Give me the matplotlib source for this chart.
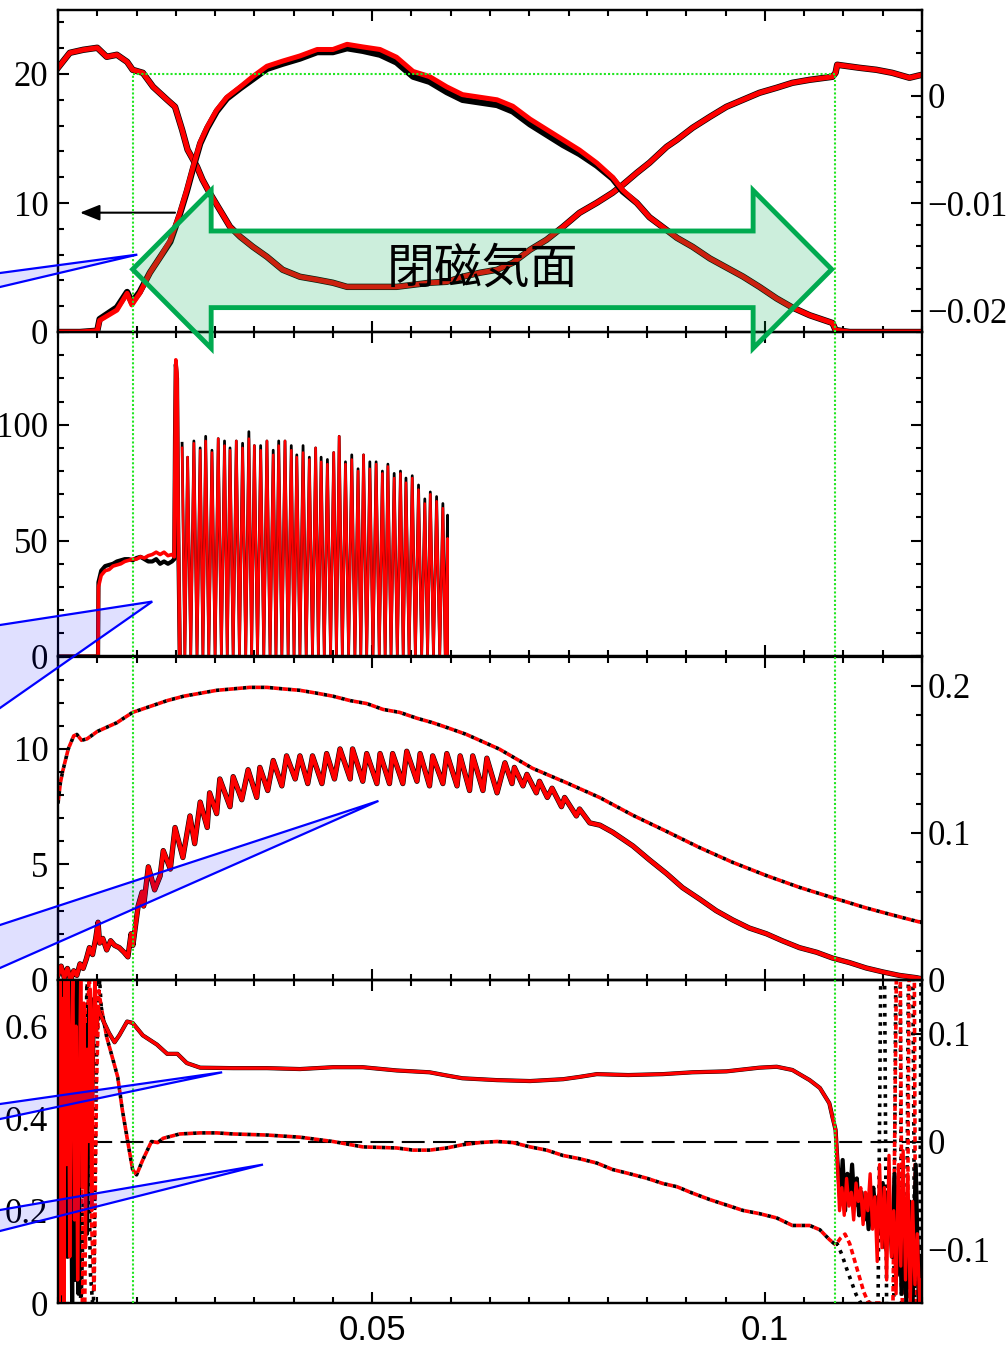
import numpy as np
import matplotlib
matplotlib.use("Agg")
import matplotlib.pyplot as plt
from matplotlib.patches import Polygon
from matplotlib.ticker import FixedLocator, MultipleLocator, FuncFormatter, NullLocator

plt.rcParams['font.family'] = ['Liberation Serif', 'DejaVu Serif']
plt.rcParams['axes.unicode_minus'] = True

# ---------------------------------------------------------------- data
# boundaries of the closed-flux-surface interval
X_OPEN, X_CLOSE = 0.0196, 0.1089

# panel 1, left axis: rising/falling signal
p1_rise_red = [(0.0100, 0.0), (0.0128, 0.0), (0.0150, 0.1), (0.0153, 0.9), (0.0175, 1.7),
               (0.0188, 3.0), (0.0194, 2.1), (0.0204, 3.0), (0.0217, 4.6), (0.0230, 5.8),
               (0.0243, 7.1), (0.0255, 9.2), (0.0264, 11.0), (0.0272, 12.8), (0.0281, 14.7),
               (0.0290, 15.9), (0.0302, 17.2), (0.0315, 18.2), (0.0332, 19.0), (0.0348, 19.8),
               (0.0366, 20.6), (0.0386, 21.0), (0.0408, 21.4), (0.0430, 21.9), (0.0450, 21.9),
               (0.0468, 22.3), (0.0488, 22.1), (0.0510, 21.9), (0.0531, 21.3), (0.0552, 20.2),
               (0.0573, 19.8), (0.0595, 19.0), (0.0615, 18.4), (0.0637, 18.2), (0.0659, 18.0),
               (0.0679, 17.5), (0.0701, 16.5), (0.0722, 15.7), (0.0743, 14.9), (0.0764, 14.1),
               (0.0786, 13.1), (0.0806, 12.0), (0.0819, 11.0), (0.0837, 10.0), (0.0853, 8.9),
               (0.0875, 7.9), (0.0888, 7.3), (0.0908, 6.6), (0.0930, 5.7), (0.0951, 5.0),
               (0.0972, 4.3), (0.0993, 3.5), (0.1015, 2.6), (0.1035, 1.9), (0.1057, 1.3),
               (0.1086, 0.7), (0.1090, 0.15), (0.1108, 0.0), (0.1200, 0.0)]
p1_rise_black = [(0.0100, 0.0), (0.0128, 0.0), (0.0150, 0.1), (0.0153, 1.0), (0.0175, 1.9),
                 (0.0188, 3.1), (0.0194, 2.3), (0.0204, 3.1), (0.0217, 4.6), (0.0230, 5.8),
                 (0.0243, 7.0), (0.0255, 9.1), (0.0264, 10.9), (0.0272, 12.7), (0.0281, 14.6),
                 (0.0290, 15.8), (0.0302, 17.1), (0.0315, 18.1), (0.0332, 18.9), (0.0348, 19.6),
                 (0.0366, 20.4), (0.0386, 20.8), (0.0408, 21.2), (0.0430, 21.7), (0.0450, 21.7),
                 (0.0468, 22.0), (0.0488, 21.8), (0.0510, 21.5), (0.0531, 20.9), (0.0552, 19.8),
                 (0.0573, 19.4), (0.0595, 18.6), (0.0615, 18.0), (0.0637, 17.8), (0.0659, 17.6),
                 (0.0679, 17.1), (0.0701, 16.1), (0.0722, 15.3), (0.0743, 14.5), (0.0764, 13.8),
                 (0.0786, 12.9), (0.0806, 11.9), (0.0819, 10.9), (0.0837, 10.0), (0.0853, 8.9),
                 (0.0875, 7.9), (0.0888, 7.3), (0.0908, 6.6), (0.0930, 5.7), (0.0951, 5.0),
                 (0.0972, 4.3), (0.0993, 3.5), (0.1015, 2.6), (0.1035, 1.9), (0.1057, 1.3),
                 (0.1086, 0.7), (0.1090, 0.15), (0.1108, 0.0), (0.1200, 0.0)]

# panel 1, right axis: signal dipping during the closed-surface phase
p1_dip = [(0.0100, 0.00258), (0.0115, 0.00397), (0.0132, 0.00425), (0.0150, 0.00444),
          (0.0162, 0.00360), (0.0175, 0.00379), (0.0188, 0.00313), (0.0195, 0.00239),
          (0.0208, 0.00211), (0.0221, 0.00081), (0.0239, -0.00040), (0.0249, -0.00105),
          (0.0258, -0.00319), (0.0265, -0.00505), (0.0277, -0.00663), (0.0284, -0.00784),
          (0.0293, -0.00905), (0.0306, -0.01063), (0.0319, -0.01221), (0.0332, -0.01314),
          (0.0348, -0.01407), (0.0366, -0.01500), (0.0386, -0.01621), (0.0408, -0.01686),
          (0.0430, -0.01714), (0.0450, -0.01742), (0.0468, -0.01780), (0.0488, -0.01780),
          (0.0510, -0.01780), (0.0531, -0.01780), (0.0552, -0.01761), (0.0573, -0.01742),
          (0.0595, -0.01733), (0.0615, -0.01686), (0.0637, -0.01649), (0.0659, -0.01621),
          (0.0679, -0.01556), (0.0701, -0.01435), (0.0722, -0.01342), (0.0743, -0.01221),
          (0.0764, -0.01091), (0.0786, -0.00998), (0.0806, -0.00905), (0.0819, -0.00831),
          (0.0837, -0.00719), (0.0853, -0.00626), (0.0875, -0.00477), (0.0888, -0.00412),
          (0.0908, -0.00300), (0.0930, -0.00198), (0.0951, -0.00105), (0.0972, -0.00040),
          (0.0993, 0.00025), (0.1015, 0.00072), (0.1035, 0.00118), (0.1057, 0.00146),
          (0.1086, 0.00174), (0.1090, 0.00211), (0.1092, 0.00286), (0.1120, 0.00258),
          (0.1142, 0.00239), (0.1162, 0.00211), (0.1184, 0.00165), (0.1200, 0.00193)]

# panel 2: plateau before the pulse train
p2_plateau_red = [(0.0100, 0), (0.0151, 0), (0.01515, 30), (0.0155, 35), (0.0160, 37),
                  (0.0165, 37.5), (0.0170, 39), (0.0175, 39.5), (0.0180, 40), (0.0185, 41),
                  (0.0190, 41.5), (0.0195, 42), (0.0200, 42), (0.0205, 43), (0.0210, 42.5),
                  (0.0215, 43.5), (0.0220, 44), (0.0225, 45), (0.0230, 44), (0.0235, 45),
                  (0.0240, 43.5), (0.0245, 44), (0.0248, 43), (0.0249, 90), (0.0250, 128),
                  (0.02515, 122), (0.0253, 60), (0.0255, 1)]
p2_plateau_black = [(0.0100, 0), (0.0151, 0), (0.01515, 32), (0.0155, 37), (0.0160, 39),
                    (0.0165, 39.5), (0.0170, 40), (0.0175, 41), (0.0180, 41.5), (0.0185, 42),
                    (0.0190, 42), (0.0195, 41.5), (0.0200, 42.5), (0.0205, 43), (0.0210, 42),
                    (0.0215, 41), (0.0220, 41), (0.0225, 42), (0.0230, 40), (0.0235, 41),
                    (0.0240, 40), (0.0245, 41), (0.0248, 42), (0.0249, 95), (0.0250, 126),
                    (0.02515, 120), (0.0253, 55), (0.0255, 1)]
# panel 2: pulse train peaks
pulse_t = [0.0258, 0.0265, 0.0273, 0.0281, 0.0288, 0.0296, 0.0304, 0.0312, 0.0319, 0.0327,
           0.0335, 0.0343, 0.0350, 0.0358, 0.0366, 0.0374, 0.0381, 0.0389, 0.0397, 0.0404,
           0.0412, 0.0420, 0.0428, 0.0435, 0.0443, 0.0451, 0.0458, 0.0466, 0.0474, 0.0482,
           0.0489, 0.0497, 0.0505, 0.0513, 0.0520, 0.0528, 0.0536, 0.0543, 0.0551, 0.0559,
           0.0567, 0.0574, 0.0582, 0.0590]
pulse_red = [90, 86, 92, 89, 93, 88, 94, 91, 89, 93,
             90, 94, 91, 89, 93, 87, 91, 93, 89, 86,
             88, 85, 90, 84, 83, 88, 95, 83, 85, 80,
             87, 81, 83, 79, 82, 77, 79, 75, 77, 72,
             66, 70, 67, 64]
pulse_black = [92, 86, 93, 90, 95, 89, 94, 93, 90, 93,
               92, 97, 91, 91, 93, 89, 93, 93, 91, 87,
               91, 86, 90, 86, 85, 88, 95, 84, 87, 81,
               87, 84, 84, 80, 83, 79, 80, 77, 78, 74,
               68, 71, 69, 66]
pulse_floor = 0.5
pulse_end_t = 0.0596
pulse_end_red, pulse_end_black = 51, 61

# panel 3, right axis: smooth dotted trace
p3_smooth = [(0.0100, 0.120), (0.0103, 0.134), (0.0106, 0.142), (0.0113, 0.157),
             (0.0120, 0.166), (0.0124, 0.167), (0.0130, 0.163), (0.0137, 0.164),
             (0.0150, 0.169), (0.0175, 0.175), (0.0195, 0.182), (0.0217, 0.186),
             (0.0239, 0.190), (0.0260, 0.193), (0.0281, 0.195), (0.0302, 0.197),
             (0.0323, 0.198), (0.0344, 0.199), (0.0366, 0.199), (0.0386, 0.198),
             (0.0408, 0.197), (0.0430, 0.195), (0.0450, 0.193), (0.0472, 0.190),
             (0.0493, 0.188), (0.0514, 0.184), (0.0535, 0.182), (0.0557, 0.178),
             (0.0577, 0.175), (0.0599, 0.171), (0.0620, 0.167), (0.0641, 0.162),
             (0.0662, 0.157), (0.0704, 0.144), (0.0748, 0.134), (0.0790, 0.124),
             (0.0832, 0.112), (0.0875, 0.101), (0.0917, 0.090), (0.0959, 0.080),
             (0.1002, 0.071), (0.1044, 0.063), (0.1086, 0.056), (0.1129, 0.049),
             (0.1171, 0.043), (0.1200, 0.039)]

# panel 3, left axis: sawtooth trace
p3_saw = [(0.0100, 0.2), (0.0104, 0.6), (0.0108, 0.1), (0.0112, 0.5), (0.0116, 0.0),
          (0.0120, 0.4), (0.0124, 0.2), (0.0128, 0.7), (0.0132, 0.5), (0.0136, 0.9),
          (0.0140, 1.4), (0.0144, 1.1), (0.0148, 1.8), (0.0151, 2.5), (0.0153, 1.6),
          (0.0157, 1.8), (0.0162, 1.3), (0.0167, 1.7), (0.0172, 1.5), (0.0178, 1.4),
          (0.0184, 1.2), (0.0189, 1.0), (0.0193, 2.0), (0.01954, 1.5),
          (0.0202, 3.2), (0.0207, 3.8), (0.0209, 3.2), (0.0215, 4.9), (0.0223, 3.9),
          (0.0230, 4.5), (0.0234, 5.6), (0.0243, 4.8), (0.0249, 6.6), (0.0259, 5.3),
          (0.0268, 7.1), (0.0274, 5.9), (0.0281, 7.7), (0.0290, 6.6), (0.0293, 8.1),
          (0.0302, 7.2), (0.0306, 8.7), (0.0319, 7.5), (0.0323, 8.8), (0.0334, 7.8),
          (0.0342, 9.1), (0.0353, 7.9), (0.0357, 9.2), (0.0367, 8.2), (0.0374, 9.5),
          (0.0385, 8.4), (0.0391, 9.7), (0.0402, 8.7), (0.0408, 9.7), (0.0418, 8.5),
          (0.0424, 9.7), (0.0436, 8.5), (0.0442, 9.8), (0.0452, 8.7), (0.0459, 10.0),
          (0.0472, 8.7), (0.0475, 10.0), (0.0488, 8.6), (0.0493, 9.8), (0.0506, 8.5),
          (0.0510, 9.8), (0.0522, 8.5), (0.0526, 9.8), (0.0539, 8.5), (0.0544, 9.9),
          (0.0557, 8.6), (0.0561, 9.8), (0.0573, 8.4), (0.0577, 9.7), (0.0590, 8.5),
          (0.0595, 9.8), (0.0608, 8.4), (0.0612, 9.7), (0.0624, 8.2), (0.0628, 9.7),
          (0.0641, 8.2), (0.0646, 9.6), (0.0659, 8.1), (0.0669, 9.4), (0.0678, 8.5),
          (0.0681, 9.2), (0.0692, 8.4), (0.0697, 8.9), (0.0709, 8.1), (0.0713, 8.6),
          (0.0723, 7.9), (0.0729, 8.3), (0.0741, 7.5), (0.0745, 7.9), (0.0760, 7.1),
          (0.0764, 7.4), (0.0777, 6.8), (0.0790, 6.7), (0.0806, 6.4), (0.0832, 5.8),
          (0.0853, 5.2), (0.0875, 4.6), (0.0895, 4.0), (0.0917, 3.5), (0.0938, 3.0),
          (0.0959, 2.6), (0.0980, 2.25), (0.1002, 2.0), (0.1022, 1.7), (0.1044, 1.4),
          (0.1066, 1.2), (0.1086, 0.95), (0.1108, 0.75), (0.1129, 0.52), (0.1150, 0.35),
          (0.1171, 0.2), (0.1193, 0.1), (0.1200, 0.05)]

# panel 4, left axis: solid ratio trace
p4_ratio_start_red = [(0.0100, 0.72), (0.01015, 0.0), (0.0103, 0.72), (0.01045, 0.02),
                      (0.0106, 0.66), (0.01075, 0.0), (0.0109, 0.72), (0.0111, 0.30),
                      (0.0113, 0.72), (0.0115, 0.10), (0.0117, 0.55), (0.0119, 0.72),
                      (0.0121, 0.18), (0.0123, 0.60), (0.0125, 0.05), (0.0127, 0.45),
                      (0.0129, 0.72), (0.0131, 0.25), (0.0133, 0.65), (0.0135, 0.12),
                      (0.0137, 0.55), (0.0139, 0.35), (0.0141, 0.68), (0.0143, 0.20),
                      (0.0145, 0.62), (0.0147, 0.70), (0.0149, 0.58), (0.0151, 0.64)]
p4_ratio_start_black = [(0.0100, 0.70), (0.0102, 0.05), (0.0104, 0.72), (0.0106, 0.0),
                        (0.0109, 0.68), (0.0112, 0.10), (0.0115, 0.72), (0.0118, 0.0),
                        (0.0120, 0.72), (0.0122, 0.05), (0.0124, 0.72), (0.0126, 0.02),
                        (0.0128, 0.70), (0.0131, 0.30), (0.0134, 0.60), (0.0137, 0.15),
                        (0.0140, 0.64), (0.0143, 0.40), (0.0146, 0.66), (0.0149, 0.60),
                        (0.0151, 0.63)]
p4_ratio = [(0.0153, 0.63), (0.0158, 0.61), (0.0165, 0.585), (0.0172, 0.565), (0.0178, 0.58),
            (0.0188, 0.61), (0.0195, 0.607), (0.0208, 0.58), (0.0226, 0.56), (0.0239, 0.54),
            (0.0252, 0.54), (0.0264, 0.52), (0.0281, 0.51), (0.0323, 0.509), (0.0366, 0.509),
            (0.0408, 0.507), (0.0450, 0.511), (0.0488, 0.511), (0.0531, 0.504), (0.0573, 0.500),
            (0.0595, 0.493), (0.0615, 0.487), (0.0659, 0.483), (0.0701, 0.481), (0.0743, 0.485),
            (0.0764, 0.490), (0.0786, 0.496), (0.0826, 0.494), (0.0870, 0.496), (0.0908, 0.500),
            (0.0951, 0.502), (0.0993, 0.510), (0.1015, 0.512), (0.1035, 0.505), (0.1057, 0.483),
            (0.1070, 0.466), (0.1082, 0.433), (0.1086, 0.403), (0.1090, 0.375), (0.1092, 0.317)]
p4_ratio_end_red = [(0.1095, 0.20), (0.1098, 0.25), (0.1101, 0.19), (0.1104, 0.27),
                    (0.1107, 0.21), (0.1110, 0.24), (0.1113, 0.18), (0.1116, 0.26),
                    (0.1119, 0.22), (0.1122, 0.25), (0.1125, 0.17), (0.1128, 0.24),
                    (0.1131, 0.20), (0.1134, 0.28), (0.1137, 0.16), (0.1140, 0.23),
                    (0.1143, 0.09), (0.1146, 0.30), (0.1149, 0.12), (0.1152, 0.25),
                    (0.1155, 0.05), (0.1158, 0.32), (0.1161, 0.10), (0.1164, 0.20),
                    (0.1167, 0.02), (0.1170, 0.30), (0.1173, 0.08), (0.1176, 0.33),
                    (0.1179, 0.05), (0.1182, 0.28), (0.1185, 0.00), (0.1188, 0.22),
                    (0.1191, 0.04), (0.1194, 0.15), (0.1197, 0.00), (0.1200, 0.05)]
p4_ratio_end_black = [(0.1096, 0.22), (0.1099, 0.31), (0.1102, 0.20), (0.1105, 0.28),
                      (0.1108, 0.22), (0.1111, 0.30), (0.1114, 0.21), (0.1117, 0.27),
                      (0.1120, 0.19), (0.1123, 0.24), (0.1126, 0.18), (0.1129, 0.23),
                      (0.1132, 0.16), (0.1135, 0.22), (0.1138, 0.25), (0.1141, 0.19),
                      (0.1144, 0.23), (0.1147, 0.15), (0.1150, 0.26), (0.1153, 0.12),
                      (0.1156, 0.24), (0.1159, 0.18), (0.1162, 0.10), (0.1165, 0.28),
                      (0.1168, 0.06), (0.1171, 0.24), (0.1174, 0.02), (0.1177, 0.20),
                      (0.1180, 0.0), (0.1184, 0.22), (0.1188, 0.0), (0.1192, 0.30),
                      (0.1196, 0.0), (0.1200, 0.10)]

# panel 4, right axis: dotted trace
p4_dot_start_red = [(0.0128, 0.16), (0.0131, -0.15), (0.0134, -0.16), (0.0137, 0.10),
                    (0.0140, 0.16), (0.0143, -0.08), (0.0146, -0.14), (0.0149, 0.05),
                    (0.0152, 0.14), (0.0155, 0.125)]
p4_dot_start_black = [(0.0125, 0.16), (0.0129, -0.16), (0.0133, -0.05), (0.0137, 0.16),
                      (0.0141, -0.12), (0.0145, -0.16), (0.0149, 0.08), (0.0153, 0.15),
                      (0.0155, 0.125)]
p4_dot = [(0.0155, 0.125), (0.0162, 0.097), (0.0170, 0.076), (0.0176, 0.060), (0.0182, 0.029),
          (0.0189, -0.001), (0.0195, -0.026), (0.0200, -0.031), (0.0208, -0.017), (0.0219, 0.000),
          (0.0227, -0.001), (0.0234, 0.003), (0.0255, 0.007), (0.0281, 0.008), (0.0302, 0.008),
          (0.0323, 0.007), (0.0366, 0.006), (0.0408, 0.004), (0.0450, 0.000), (0.0488, -0.005),
          (0.0531, -0.006), (0.0552, -0.008), (0.0573, -0.008), (0.0595, -0.006), (0.0615, -0.003),
          (0.0637, -0.001), (0.0659, 0.000), (0.0679, -0.001), (0.0701, -0.005), (0.0722, -0.008),
          (0.0743, -0.013), (0.0764, -0.016), (0.0786, -0.020), (0.0806, -0.026), (0.0828, -0.030),
          (0.0849, -0.034), (0.0870, -0.039), (0.0888, -0.042), (0.0908, -0.048), (0.0930, -0.054),
          (0.0951, -0.059), (0.0972, -0.064), (0.0993, -0.067), (0.1015, -0.071), (0.1035, -0.078),
          (0.1057, -0.078), (0.1070, -0.082), (0.1082, -0.091), (0.1090, -0.096)]
p4_dot_end_red = [(0.1090, -0.096), (0.1096, -0.090), (0.1102, -0.086), (0.1108, -0.095),
                  (0.1114, -0.110), (0.1120, -0.125), (0.1126, -0.140), (0.1132, -0.150),
                  (0.1150, -0.150), (0.1163, -0.155), (0.1168, 0.20), (0.1172, 0.20),
                  (0.1175, -0.16), (0.1181, -0.16), (0.1184, 0.20), (0.1190, 0.20),
                  (0.1192, -0.16), (0.1200, -0.16)]
p4_dot_end_black = [(0.1090, -0.096), (0.1092, -0.095), (0.1098, -0.105), (0.1104, -0.118),
                    (0.1110, -0.130), (0.1116, -0.142), (0.1122, -0.150), (0.1130, -0.150),
                    (0.1138, -0.148), (0.1144, -0.155), (0.1148, 0.20), (0.1152, 0.20),
                    (0.1155, -0.16), (0.1164, -0.16), (0.1167, 0.20), (0.1172, 0.20),
                    (0.1174, -0.16), (0.1180, -0.16), (0.1183, 0.20), (0.1188, 0.20),
                    (0.1191, -0.16), (0.1197, -0.16), (0.1199, 0.20)]

# tick values
X_MAJOR = [0.05, 0.1]


# ---------------------------------------------------------------- helpers
def xy(pairs):
    arr = np.asarray(pairs, dtype=float)
    return arr[:, 0], arr[:, 1]


def join(*segments):
    return xy([p for seg in segments for p in seg])


def pulse_train(times, heights, floor, end_t, end_h):
    times = list(times)
    mids = [(a + b) / 2 for a, b in zip(times[:-1], times[1:])]
    pts = []
    for i, (t, h) in enumerate(zip(times, heights)):
        pts.append((t, h))
        if i < len(mids):
            pts.append((mids[i], floor))
    last_gap = (end_t + times[-1]) / 2
    pts += [(last_gap, floor), (end_t, end_h), (end_t, 0.0), (0.1200, 0.0)]
    return xy(pts)


def fmt(v, _pos):
    return ('%g' % v).replace('-', '\u2212')


RED, BLACK = '#ff0000', '#000000'
GREEN_LINE = '#22e622'
ARROW_GREEN = (0.0, 0.667, 0.314)
DOT_BLACK = (0, (1.0, 1.5))
DOT_RED = (1.5, (1.5, 1.0))

W, H = 1006, 1347
fig = plt.figure(figsize=(W / 100, H / 100), dpi=100)
fig.patch.set_facecolor('white')

LEFT_PX, RIGHT_PX = 58, 922


def panel(top_px, bot_px):
    ax = fig.add_axes([LEFT_PX / W, 1 - bot_px / H, (RIGHT_PX - LEFT_PX) / W,
                       (bot_px - top_px) / H])
    ax.set_facecolor('none')
    ax.set_xlim(0.01, 0.12)
    ax.xaxis.set_major_locator(FixedLocator(X_MAJOR))
    ax.xaxis.set_minor_locator(MultipleLocator(0.005))
    ax.tick_params(axis='x', which='both', direction='in', top=True, bottom=True,
                   labelbottom=False)
    ax.tick_params(which='major', length=8, width=1.5)
    ax.tick_params(which='minor', length=4, width=1.5)
    ax.tick_params(axis='y', which='both', direction='in', left=True, labelsize=25, pad=7)
    ax.yaxis.set_major_formatter(FuncFormatter(fmt))
    for s in ax.spines.values():
        s.set_linewidth(1.6)
    return ax


def right_twin(ax):
    axr = ax.twinx()
    axr.tick_params(axis='y', which='both', direction='in', right=True, left=False,
                    labelright=True, labelsize=25, pad=4)
    axr.tick_params(which='major', length=8, width=1.5)
    axr.tick_params(which='minor', length=4, width=1.5)
    axr.yaxis.set_major_formatter(FuncFormatter(fmt))
    for s in axr.spines.values():
        s.set_linewidth(1.6)
    return axr


ax1 = panel(9.5, 332)
ax2 = panel(332, 656.5)
ax3 = panel(656.5, 980)
ax4 = panel(980, 1303)

# ---------------------------------------------------------------- panel 1
ax1r = right_twin(ax1)
ax1r.set_zorder(1)
ax1.set_zorder(2)
ax1.patch.set_visible(False)

ax1.set_ylim(0, 25)
ax1.yaxis.set_major_locator(FixedLocator([0, 10, 20]))
ax1.yaxis.set_minor_locator(MultipleLocator(2))
ax1r.set_ylim(-0.022, 0.008)
ax1r.yaxis.set_major_locator(FixedLocator([-0.02, -0.01, 0]))
ax1r.yaxis.set_minor_locator(MultipleLocator(0.002))

t, v = xy(p1_dip)
ax1r.plot(t, v, color=BLACK, lw=4.6)
ax1r.plot(t, v, color=RED, lw=3.6)
t, v = xy(p1_rise_black)
ax1.plot(t, v, color=BLACK, lw=4.6)
t, v = xy(p1_rise_red)
ax1.plot(t, v, color=RED, lw=3.6)

ax1.vlines([X_OPEN, X_CLOSE], 0, 20, colors=GREEN_LINE, linestyles=(0, (1, 1)), lw=1.5, zorder=6)
ax1.hlines(20, X_OPEN, X_CLOSE, colors=GREEN_LINE, linestyles=(0, (1, 1)), lw=1.5, zorder=6)

# arrow pointing to the axis this signal belongs to
ax1.annotate('', xy=(0.0128, 9.25), xytext=(0.0249, 9.25),
             arrowprops=dict(arrowstyle='-|>,head_length=0.6,head_width=0.24',
                             color='black', lw=1.5, shrinkA=0, shrinkB=0,
                             mutation_scale=20))

# double-headed block arrow marking the closed-surface interval
y_mid, head_half, shaft_half = 4.86, 6.12, 2.97
x_l, x_r = X_OPEN - 0.0001, X_CLOSE - 0.0004
head_len = 0.0100
arrow_pts = [(x_l, y_mid),
             (x_l + head_len, y_mid + head_half), (x_l + head_len, y_mid + shaft_half),
             (x_r - head_len, y_mid + shaft_half), (x_r - head_len, y_mid + head_half),
             (x_r, y_mid),
             (x_r - head_len, y_mid - head_half), (x_r - head_len, y_mid - shaft_half),
             (x_l + head_len, y_mid - shaft_half), (x_l + head_len, y_mid - head_half)]
ax1.add_patch(Polygon(arrow_pts, closed=True, facecolor=(*ARROW_GREEN, 0.2),
                      edgecolor=ARROW_GREEN, lw=3.5, joinstyle='miter',
                      clip_on=False, zorder=10))
ax1.text(0.0640, y_mid, '閉磁気面', fontsize=34.5, family=['Noto Sans CJK JP'],
         ha='center', va='center', color='black', zorder=11)

# ---------------------------------------------------------------- panel 2
ax2.set_ylim(0, 140)
ax2.yaxis.set_major_locator(FixedLocator([0, 50, 100]))
ax2.yaxis.set_minor_locator(MultipleLocator(10))
ax2.tick_params(axis='y', which='both', right=True)

t, v = xy(p2_plateau_black)
ax2.plot(t, v, color=BLACK, lw=3.0)
t, v = pulse_train(pulse_t, pulse_black, pulse_floor, pulse_end_t, pulse_end_black)
ax2.plot(t, v, color=BLACK, lw=2.0)
t, v = xy(p2_plateau_red)
ax2.plot(t, v, color=RED, lw=2.6)
t, v = pulse_train(pulse_t, pulse_red, pulse_floor, pulse_end_t, pulse_end_red)
ax2.plot(t, v, color=RED, lw=1.8)

# ---------------------------------------------------------------- panel 3
ax3r = right_twin(ax3)
ax3.set_ylim(0, 14)
ax3.yaxis.set_major_locator(FixedLocator([0, 5, 10]))
ax3.yaxis.set_minor_locator(MultipleLocator(1))
ax3r.set_ylim(0, 0.22)
ax3r.yaxis.set_major_locator(FixedLocator([0, 0.1, 0.2]))
ax3r.yaxis.set_minor_locator(MultipleLocator(0.02))

t, v = xy(p3_smooth)
ax3r.plot(t, v, color=BLACK, lw=2.6, ls=DOT_BLACK)
ax3r.plot(t, v, color=RED, lw=2.6, ls=DOT_RED)
t, v = xy(p3_saw)
ax3.plot(t, v, color=BLACK, lw=3.8)
ax3.plot(t, v, color=RED, lw=3.0)
ax3.set_zorder(ax3r.get_zorder() + 1)
ax3.patch.set_visible(False)

# ---------------------------------------------------------------- panel 4
ax4r = right_twin(ax4)
ax4.set_ylim(0, 0.7)
ax4.yaxis.set_major_locator(FixedLocator([0, 0.2, 0.4, 0.6]))
ax4.yaxis.set_minor_locator(NullLocator())
ax4r.set_ylim(-0.15, 0.15)
ax4r.yaxis.set_major_locator(FixedLocator([-0.1, 0, 0.1]))
ax4r.yaxis.set_minor_locator(NullLocator())
ax4.tick_params(axis='x', labelbottom=True, labelsize=25, pad=8,
                labelfontfamily='Liberation Sans')
ax4.xaxis.set_major_formatter(FuncFormatter(fmt))

ax4r.axhline(0, color='black', lw=1.5, ls=(0, (11, 4)), zorder=1)

for seg in (p4_dot_start_black, p4_dot, p4_dot_end_black):
    t, v = xy(seg)
    ax4r.plot(t, v, color=BLACK, lw=2.6, ls=DOT_BLACK)
for seg in (p4_dot_start_red, p4_dot, p4_dot_end_red):
    t, v = xy(seg)
    ax4r.plot(t, v, color=RED, lw=2.6, ls=DOT_RED)

t, v = join(p4_ratio_start_black, p4_ratio, p4_ratio_end_black)
ax4.plot(t, v, color=BLACK, lw=3.0)
t, v = join(p4_ratio_start_red, p4_ratio, p4_ratio_end_red)
ax4.plot(t, v, color=RED, lw=2.4)
ax4.set_zorder(ax4r.get_zorder() + 1)
ax4.patch.set_visible(False)

# boundary markers through the lower panels
for ax in (ax2, ax3, ax4):
    ax.axvline(X_OPEN, color=GREEN_LINE, ls=(0, (1, 1)), lw=1.5, zorder=6)
    ax.axvline(X_CLOSE, color=GREEN_LINE, ls=(0, (1, 1)), lw=1.5, zorder=6)

# ---------------------------------------------------------------- call-out pointers
callouts = [  # (axes, tip in data units, left-edge y of upper / lower edge in pixels)
    (ax1, (0.0201, 6.0), 273, 287),
    (ax2, (0.0220, 23.7), 625, 708),
    (ax3, (0.0508, 7.75), 925, 968),
    (ax4, (0.0309, 0.50), 1104, 1119),
    (ax4, (0.0361, 0.30), 1210, 1231),
]
to_fig = fig.transFigure.inverted()
for ax, tip, y_up, y_lo in callouts:
    tx, ty = to_fig.transform(ax.transData.transform(tip))
    pts = []
    for ypx in (y_up, y_lo):
        bx, by = 0.0, 1 - ypx / H
        pts.append((bx + (bx - tx) * 0.1, by + (by - ty) * 0.1))
    poly = Polygon([pts[0], (tx, ty), pts[1]], closed=True,
                   facecolor=(0, 0, 1, 0.12), edgecolor='#0000ff', lw=1.6,
                   transform=fig.transFigure, zorder=30, clip_on=False)
    fig.add_artist(poly)

fig.savefig('out.png', dpi=100)
